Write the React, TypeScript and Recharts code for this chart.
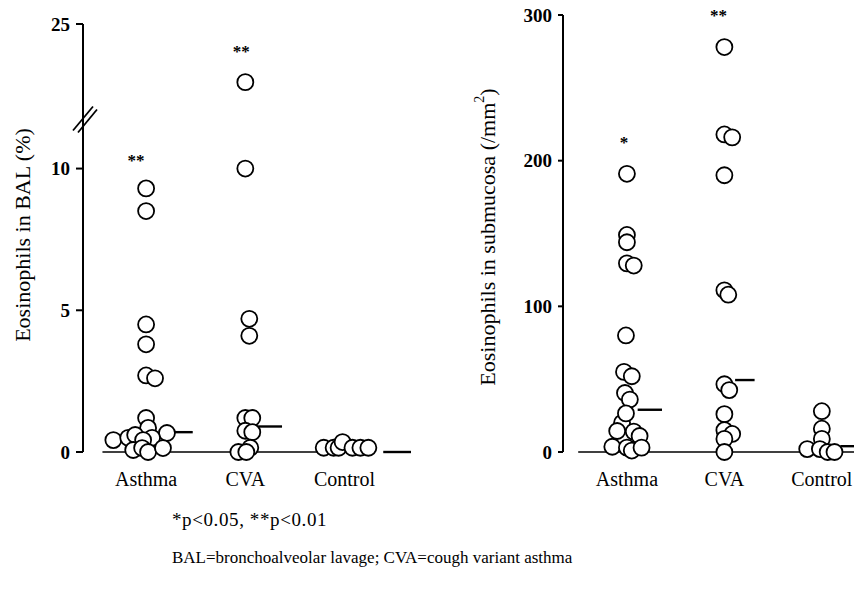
import React from 'react';
import { ScatterChart, Scatter, XAxis, YAxis, ReferenceLine, ReferenceDot } from 'recharts';

const categories = ['Asthma', 'CVA', 'Control'];

// BAL eosinophils (%)
const balAsthma = [9.3, 8.5, 4.5, 3.8, 2.7, 2.6, 1.2, 0.85, 0.42, 0.5, 0.6, 0.67, 0.5, 0.42, 0.07, 0.14, 0, 0.14];
const balAsthmaJitter = [0, 0, 0, 0, 0, 0.09, 0, 0.02, -0.33, -0.18, -0.11, 0.21, 0.06, -0.03, -0.13, -0.04, 0.02, 0.17];
const balCva = [16.4, 10.0, 4.7, 4.1, 1.2, 1.2, 0.75, 0.7, 0, 0.15, 0];
const balCvaJitter = [0, 0, 0.04, 0.04, 0, 0.07, 0, 0.07, -0.07, 0.05, 0.01];
const balControl = [0.15, 0.15, 0.15, 0.35, 0.15, 0.15, 0.15];
const balControlJitter = [-0.21, -0.11, -0.06, -0.02, 0.08, 0.16, 0.24];
const balMedians = [0.7, 0.9, 0];
const balTicks = [0, 5, 10, 25];

// submucosa eosinophils (/mm2)
const subAsthma = [191, 149, 144, 129.5, 128, 80, 55, 52, 40.5, 36, 20, 26.5, 14.4, 14, 11, 3.6, 3, 1, 3];
const subAsthmaJitter = [0, 0, 0, 0, 0.07, -0.01, -0.03, 0.05, -0.02, 0.03, -0.05, -0.01, -0.1, 0.07, 0.13, -0.15, 0, 0.05, 0.15];
const subCva = [278, 218, 216, 190, 111, 108, 46.5, 42.5, 26, 15, 12.4, 9, 0];
const subCvaJitter = [0, 0, 0.08, 0, 0, 0.04, 0, 0.05, 0, 0, 0.08, 0, 0];
const subControl = [28, 16, 9, 2, 2, 0, 0];
const subControlJitter = [0, 0, 0, -0.15, -0.02, 0.06, 0.13];
const subMedians = [29, 49.4, 4];
const subTicks = [0, 100, 200, 300];

const balStars = ['**', '**', ''];
const balStarValues = [10.1, 20.1, 0];
const subStars = ['*', '**', ''];
const subStarValues = [209, 296, 0];

// broken axis above 12 %
const BREAK = 12;
const UPPER = 0.2385;
const balScale = (v: number) => (v <= BREAK ? v : BREAK + (v - BREAK) * UPPER);

const FONT = '"Liberation Serif", "Times New Roman", serif';

const toPoints = (vals: number[], jit: number[], cat: number, f = (v: number) => v) =>
  vals.map((v, i) => ({ x: cat + jit[i], y: f(v) }));

const Dot = (props: any) => (
  <circle cx={props.cx} cy={props.cy} r={8} fill="#fff" stroke="#000" strokeWidth={1.8} />
);

const starShape = (label: string, dx: number) => (props: any) => (
  <text x={props.cx + dx} y={props.cy} textAnchor="middle" fontFamily={FONT} fontSize={17} fontWeight="bold" fill="#000">
    {label}
  </text>
);

const BreakMark = (props: any) => (
  <g stroke="#000" strokeWidth={1.8}>
    <line x1={props.cx - 10} y1={props.cy + 13} x2={props.cx + 10} y2={props.cy - 11} />
    <line x1={props.cx - 5} y1={props.cy + 15} x2={props.cx + 14} y2={props.cy - 8} />
  </g>
);

const tickStyle = { fontFamily: FONT, fontSize: 19, fontWeight: 'bold' as const, fill: '#000' };
const catStyle = { fontFamily: FONT, fontSize: 20, fill: '#000' };

const App = () => {
  const balSeries = [
    toPoints(balAsthma, balAsthmaJitter, 1, balScale),
    toPoints(balCva, balCvaJitter, 2, balScale),
    toPoints(balControl, balControlJitter, 3, balScale),
  ];
  const subSeries = [
    toPoints(subAsthma, subAsthmaJitter, 1),
    toPoints(subCva, subCvaJitter, 2),
    toPoints(subControl, subControlJitter, 3),
  ];
  const balMedianX = [[1.27, 1.47], [2.13, 2.37], [3.39, 3.67]];
  const subMedianX = [[1.11, 1.36], [2.11, 2.31], [3.19, 3.33]];
  const balTickPos = balTicks.map(balScale);

  return (
    <div style={{ position: 'absolute', left: 0, top: 0, width: 854, height: 594, background: '#fff', overflow: 'hidden' }}>
      <div style={{ position: 'absolute', left: 0, top: 0 }}>
        <ScatterChart width={430} height={500} margin={{ top: 24, left: 0, right: 16, bottom: 0 }}>
          <XAxis
            type="number"
            dataKey="x"
            domain={[0.364, 3.7]}
            ticks={[1, 2, 3]}
            tickFormatter={(v: number) => categories[v - 1]}
            axisLine={false}
            tickLine={false}
            tickSize={0}
            tickMargin={20}
            height={48}
            tick={catStyle}
          />
          <YAxis
            type="number"
            dataKey="y"
            domain={[0, balScale(25)]}
            ticks={balTickPos}
            tickFormatter={(v: number) => String(balTicks[balTickPos.findIndex((t) => Math.abs(t - v) < 0.01)])}
            width={83}
            axisLine={{ stroke: '#000', strokeWidth: 2 }}
            tickLine={{ stroke: '#000', strokeWidth: 2 }}
            tickSize={7}
            tickMargin={6}
            tick={tickStyle}
          />
          <ReferenceLine segment={[{ x: 0.56, y: 0 }, { x: 3.3, y: 0 }]} stroke="#000" strokeWidth={1.6} />
          {balMedians.map((m, i) => (
            <ReferenceLine
              key={'bm' + i}
              segment={[{ x: balMedianX[i][0], y: m }, { x: balMedianX[i][1], y: m }]}
              stroke="#000"
              strokeWidth={2.4}
            />
          ))}
          {balSeries.map((d, i) => (
            <Scatter key={'bs' + i} data={d} shape={Dot} isAnimationActive={false} />
          ))}
          {balStars.map((s, i) =>
            s ? (
              <ReferenceDot key={'bst' + i} x={i + 1} y={balScale(balStarValues[i])} r={1} shape={starShape(s, i === 0 ? -10 : -4)} />
            ) : null
          )}
          <ReferenceDot x={0.364} y={11.8} r={1} shape={BreakMark} />
        </ScatterChart>
      </div>

      <div style={{ position: 'absolute', left: 430, top: 0 }}>
        <ScatterChart width={424} height={500} margin={{ top: 15, left: 0, right: 0, bottom: 0 }}>
          <XAxis
            type="number"
            dataKey="x"
            domain={[0.344, 3.33]}
            ticks={[1, 2, 3]}
            tickFormatter={(v: number) => categories[v - 1]}
            axisLine={false}
            tickLine={false}
            tickSize={0}
            tickMargin={20}
            height={48}
            tick={catStyle}
          />
          <YAxis
            type="number"
            dataKey="y"
            domain={[0, 300]}
            ticks={subTicks}
            width={133}
            axisLine={{ stroke: '#000', strokeWidth: 2 }}
            tickLine={{ stroke: '#000', strokeWidth: 2 }}
            tickSize={5}
            tickMargin={6}
            tick={tickStyle}
          />
          <ReferenceLine segment={[{ x: 0.5, y: 0 }, { x: 3.33, y: 0 }]} stroke="#000" strokeWidth={1.6} />
          {subMedians.map((m, i) => (
            <ReferenceLine
              key={'sm' + i}
              segment={[{ x: subMedianX[i][0], y: m }, { x: subMedianX[i][1], y: m }]}
              stroke="#000"
              strokeWidth={2.4}
            />
          ))}
          {subSeries.map((d, i) => (
            <Scatter key={'ss' + i} data={d} shape={Dot} isAnimationActive={false} />
          ))}
          {subStars.map((s, i) =>
            s ? (
              <ReferenceDot key={'sst' + i} x={i + 1} y={subStarValues[i]} r={1} shape={starShape(s, i === 0 ? -3 : -6)} />
            ) : null
          )}
        </ScatterChart>
      </div>

      <svg width={854} height={594} style={{ position: 'absolute', left: 0, top: 0, pointerEvents: 'none' }}>
        <text
          transform="translate(22,235) rotate(-90)"
          textAnchor="middle"
          dominantBaseline="central"
          fontFamily={FONT}
          fontSize={22}
          fill="#000"
        >
          Eosinophils in BAL (%)
        </text>
        <text
          transform="translate(487,237) rotate(-90)"
          textAnchor="middle"
          dominantBaseline="central"
          fontFamily={FONT}
          fontSize={22}
          fill="#000"
        >
          Eosinophils in submucosa (/mm
          <tspan fontSize={14} dy={-8}>2</tspan>
          <tspan dy={8}>)</tspan>
        </text>
        <text x={172} y={526} fontFamily={FONT} fontSize={19} letterSpacing={0.6} fill="#000">
          *p&lt;0.05, **p&lt;0.01
        </text>
        <text x={172} y={563} fontFamily={FONT} fontSize={17} fill="#000">
          BAL=bronchoalveolar lavage; CVA=cough variant asthma
        </text>
      </svg>
    </div>
  );
};

export default App;
